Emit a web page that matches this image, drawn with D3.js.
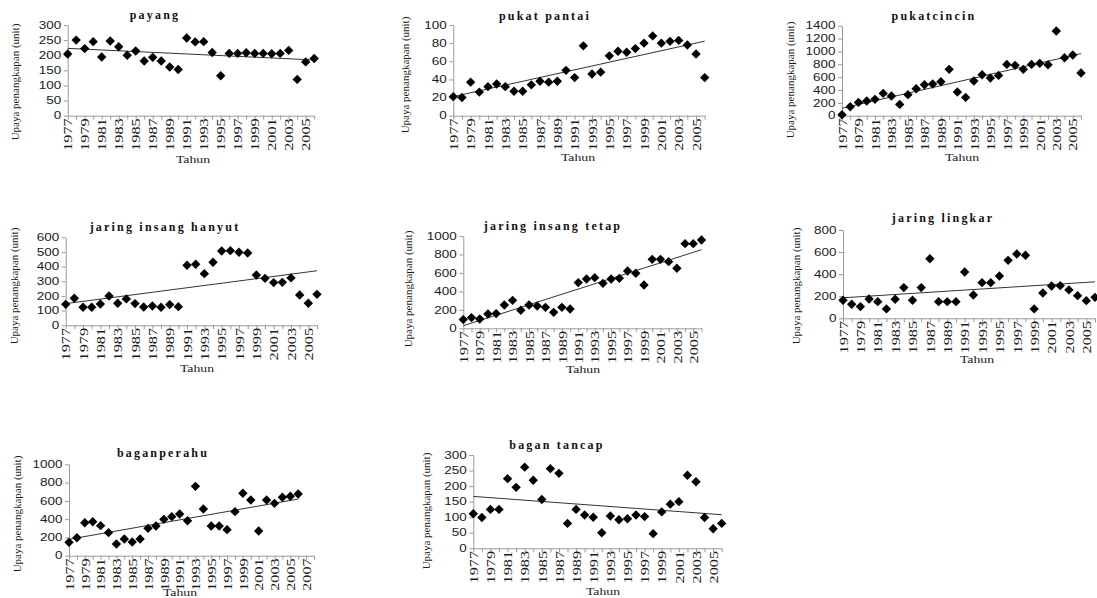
<!DOCTYPE html>
<html>
<head>
<meta charset="utf-8">
<script src="https://cdn.jsdelivr.net/npm/d3@7"></script>
<style>
  body { margin: 0; background: #fff; }
  svg { display: block; }
</style>
</head>
<body>
<svg id="chart" width="1097" height="598"></svg>
<script>
// years on the category axis
var years = [1977, 1978, 1979, 1980, 1981, 1982, 1983, 1984, 1985, 1986,
             1987, 1988, 1989, 1990, 1991, 1992, 1993, 1994, 1995, 1996,
             1997, 1998, 1999, 2000, 2001, 2002, 2003, 2004, 2005, 2006];
// bagan perahu has a longer axis (labels up to 2007)
var perahuAxisYears = years.concat([2007, 2008]);

// upaya penangkapan (unit) per alat tangkap
var payang = [204, 250, 222, 245, 194, 247, 228, 200, 214, 181,
              193, 181, 161, 153, 257, 244, 245, 209, 132, 206,
              206, 208, 206, 206, 205, 206, 216, 120, 178, 189];
var pukatPantai = [21, 20, 37, 26, 32, 35, 32, 27, 27, 34,
                   38, 37, 38, 50, 42, 77, 46, 48, 66, 71,
                   70, 74, 80, 88, 80, 82, 83, 78, 68, 42];
var pukatCincin = [15, 140, 207, 228, 254, 347, 306, 176, 327, 420,
                   482, 493, 529, 721, 368, 285, 539, 638, 586, 627,
                   798, 783, 721, 798, 814, 793, 1317, 902, 944, 664];
var jaringInsangHanyut = [143, 184, 123, 123, 145, 200, 150, 180, 148, 125,
                          132, 123, 141, 127, 409, 416, 352, 430, 507, 509,
                          498, 493, 343, 320, 291, 293, 323, 207, 150, 211];
var jaringInsangTetap = [94, 116, 101, 155, 159, 253, 303, 195, 253, 242,
                         227, 173, 227, 209, 495, 534, 549, 487, 534, 541,
                         621, 596, 469, 747, 747, 722, 650, 917, 917, 957];
var jaringLingkar = [163, 127, 106, 175, 151, 85, 172, 278, 163, 278,
                     540, 151, 151, 151, 420, 211, 323, 323, 383, 525,
                     583, 571, 85, 229, 293, 296, 257, 205, 160, 190];
var baganPerahu = [146, 197, 361, 372, 329, 252, 128, 183, 150, 183,
                   299, 325, 398, 427, 456, 383, 759, 511, 325, 325,
                   285, 482, 683, 610, 270, 610, 573, 639, 650, 675];
var baganTancap = [111, 99, 125, 125, 224, 196, 261, 219, 157, 256,
                   241, 80, 125, 107, 100, 50, 104, 92, 95, 107,
                   102, 47, 117, 142, 150, 235, 214, 99, 63, 80];

var titles = ["payang", "pukat pantai", "pukatcincin", "jaring insang hanyut",
              "jaring insang tetap", "jaring lingkar", "baganperahu", "bagan tancap"];

// y tick labels
var ticks300 = [0, 50, 100, 150, 200, 250, 300];
var ticks100 = [0, 20, 40, 60, 80, 100];
var ticks1400 = [0, 200, 400, 600, 800, 1000, 1200, 1400];
var ticks600 = [0, 100, 200, 300, 400, 500, 600];
var ticks1000 = [0, 200, 400, 600, 800, 1000];
var ticks800 = [0, 200, 400, 600, 800];

var yTitle = "Upaya penangkapan (unit)";
var xTitle = "Tahun";

var panels = [
    {title: titles[0], values: payang, ticks: ticks300, axisYears: years},
    {title: titles[1], values: pukatPantai, ticks: ticks100, axisYears: years},
    {title: titles[2], values: pukatCincin, ticks: ticks1400, axisYears: years},
    {title: titles[3], values: jaringInsangHanyut, ticks: ticks600, axisYears: years},
    {title: titles[4], values: jaringInsangTetap, ticks: ticks1000, axisYears: years},
    {title: titles[5], values: jaringLingkar, ticks: ticks800, axisYears: years},
    {title: titles[6], values: baganPerahu, ticks: ticks1000, axisYears: perahuAxisYears},
    {title: titles[7], values: baganTancap, ticks: ticks300, axisYears: years}
];

// where each small chart sits on the page
var layout = [
    {l: 67.7, r: 314.2, t: 25, b: 115.7, tx: 155, ty: 19, yx: 15, yy: 82, xx: 193, xy: 163},
    {l: 453.3, r: 704.7, t: 25, b: 115.7, tx: 545, ty: 20, yx: 405, yy: 75, xx: 578, xy: 161},
    {l: 842, r: 1081, t: 25.7, b: 115.7, tx: 934, ty: 20, yx: 790, yy: 80, xx: 962, xy: 161},
    {l: 65.7, r: 317, t: 237.3, b: 325.3, tx: 165, ty: 231, yx: 14, yy: 286, xx: 197, xy: 372},
    {l: 463.3, r: 701.5, t: 236, b: 328.3, tx: 553, ty: 230, yx: 408, yy: 289, xx: 583, xy: 373},
    {l: 843, r: 1095, t: 230, b: 318.3, tx: 943, ty: 222, yx: 796, yy: 286, xx: 977, xy: 363},
    {l: 69, r: 314, t: 464.3, b: 555.7, tx: 163, ty: 457, yx: 17, yy: 514, xx: 180, xy: 595.5},
    {l: 473.3, r: 721.7, t: 455, b: 548.3, tx: 557, ty: 449, yx: 426, yy: 511, xx: 603, xy: 595}
];

var serif = "'Liberation Serif', 'Times New Roman', serif";
var sans = "'Liberation Sans', Arial, sans-serif";
var axisColor = "#9a9a9a";

var svg = d3.select("#chart");

function trend(xs, ys) {
    var mx = d3.mean(xs), my = d3.mean(ys);
    var num = d3.sum(xs, function(x, i) { return (x - mx) * (ys[i] - my); });
    var den = d3.sum(xs, function(x) { return (x - mx) * (x - mx); });
    var slope = num / den;
    return function(x) { return my + slope * (x - mx); };
}

function drawPanel(p, L) {
    var axisYears = p.axisYears;
    var x = d3.scaleLinear()
        .domain([axisYears[0], axisYears[axisYears.length - 1]])
        .range([L.l, L.r]);
    var y = d3.scaleLinear()
        .domain([0, p.ticks[p.ticks.length - 1]])
        .range([L.b, L.t]);

    var g = svg.append("g");

    // x axis, a tick every year, labels every other year
    var xAxis = d3.axisBottom(x)
        .tickValues(axisYears)
        .tickSize(4)
        .tickSizeOuter(0)
        .tickFormat(function(d) { return d % 2 ? d : ""; });

    var gx = g.append("g")
        .attr("transform", "translate(0," + L.b + ")")
        .call(xAxis);
    gx.select(".domain").attr("stroke", axisColor);
    gx.selectAll(".tick line").attr("stroke", axisColor);
    gx.selectAll(".tick text")
        .attr("font-family", serif)
        .attr("font-size", 12)
        .attr("fill", "#1a1a1a")
        .attr("text-anchor", "end")
        .attr("x", -2)
        .attr("y", 0)
        .attr("dy", "0.35em")
        .attr("transform", "rotate(-90) scale(1.35,1)");

    // y axis
    var yAxis = d3.axisLeft(y)
        .tickValues(p.ticks)
        .tickSize(4)
        .tickSizeOuter(0)
        .tickFormat(d3.format("d"));

    var gy = g.append("g")
        .attr("transform", "translate(" + L.l + ",0)")
        .call(yAxis);
    gy.select(".domain").attr("stroke", axisColor);
    gy.selectAll(".tick line").attr("stroke", axisColor);
    gy.selectAll(".tick text")
        .attr("font-family", sans)
        .attr("font-size", 10)
        .attr("fill", "#1a1a1a")
        .attr("x", -6.5 / 1.35)
        .attr("transform", "scale(1.35,1)");

    // linear trend line
    var f = trend(years, p.values);
    var line = d3.line()
        .x(function(d) { return x(d); })
        .y(function(d) { return y(f(d)); });
    g.append("path")
        .datum([years[0], years[years.length - 1]])
        .attr("fill", "none")
        .attr("stroke", "#333")
        .attr("stroke-width", 1)
        .attr("d", line);

    // diamond markers
    var diamond = d3.symbol().type(d3.symbolSquare).size(44);
    g.selectAll(".pt")
        .data(p.values)
        .enter().append("path")
        .attr("class", "pt")
        .attr("fill", "#000")
        .attr("d", diamond)
        .attr("transform", function(d, i) {
            return "translate(" + x(years[i]) + "," + y(d) + ") rotate(45)";
        });

    // titles
    g.append("text")
        .attr("x", L.tx)
        .attr("y", L.ty)
        .attr("text-anchor", "middle")
        .attr("font-family", serif)
        .attr("font-weight", "bold")
        .attr("font-size", 12)
        .attr("letter-spacing", "2.2px")
        .attr("fill", "#111")
        .text(p.title);

    g.append("text")
        .attr("transform", "translate(" + L.yx + "," + L.yy + ") rotate(-90)")
        .attr("text-anchor", "middle")
        .attr("dy", "0.35em")
        .attr("font-family", serif)
        .attr("font-size", 11)
        .attr("fill", "#1a1a1a")
        .text(yTitle);

    g.append("text")
        .attr("transform", "translate(" + L.xx + "," + L.xy + ") scale(1.25,1)")
        .attr("text-anchor", "middle")
        .attr("font-family", serif)
        .attr("font-size", 11)
        .attr("fill", "#1a1a1a")
        .text(xTitle);
}

panels.forEach(function(p, i) {
    drawPanel(p, layout[i]);
});
</script>
</body>
</html>
